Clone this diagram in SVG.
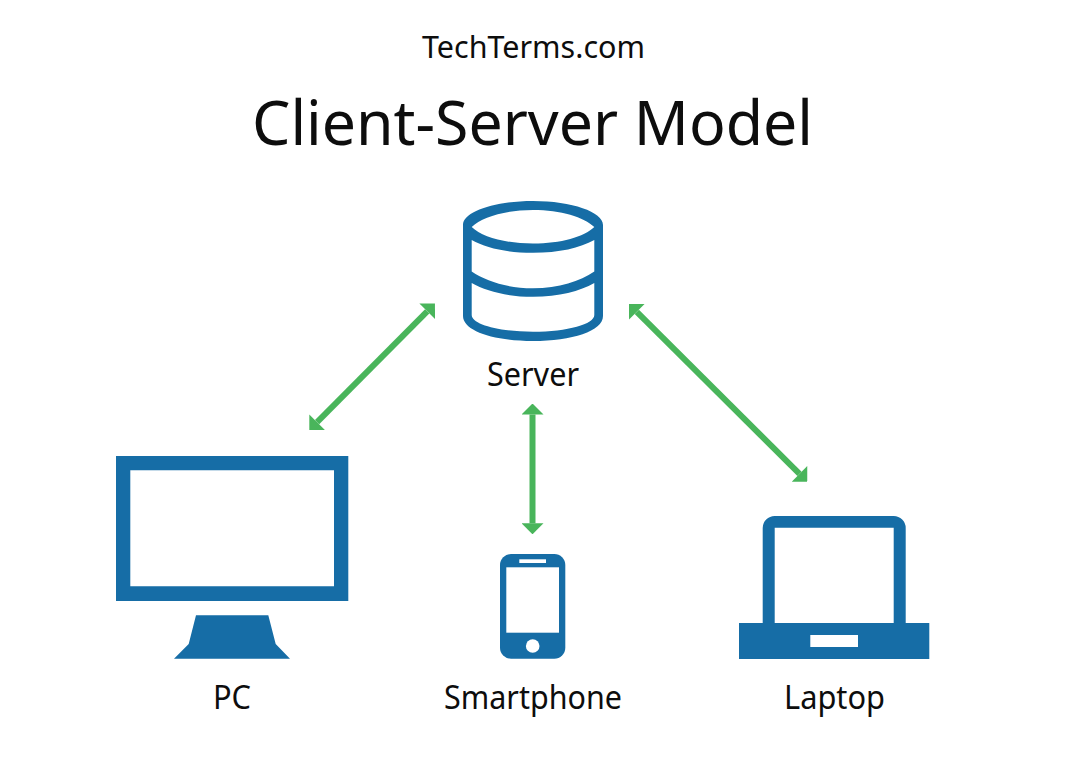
<svg xmlns="http://www.w3.org/2000/svg" width="1074" height="773" viewBox="0 0 1074 773">
<style>
.t{font-family:"Noto Sans","Open Sans","Liberation Sans",sans-serif;fill:#0d0d0d;text-anchor:middle}
.l{font-size:32px}
.i{fill:#166da6;fill-rule:evenodd}
.c{fill:none;stroke:#49b55b;stroke-width:6;marker-start:url(#h);marker-end:url(#h)}
</style>
<defs>
<marker id="h" markerUnits="userSpaceOnUse" markerWidth="12" markerHeight="22" viewBox="0 0 12 22" refX="1" refY="11" orient="auto-start-reverse"><path d="M1 0L12 11L1 22Z" fill="#49b55b"/></marker>
</defs>
<rect width="1074" height="773" fill="#fff"/>
<g id="header">
<text class="t" x="533.5" y="58" font-size="31" textLength="223" lengthAdjust="spacingAndGlyphs">TechTerms.com</text>
<text class="t" x="532.5" y="145" font-size="62" textLength="561" lengthAdjust="spacingAndGlyphs">Client-Server Model</text>
</g>
<g id="connectors">
<line class="c" x1="427.2" y1="311.3" x2="317.1" y2="422.2"/>
<line class="c" x1="636.8" y1="311.8" x2="799.5" y2="473.9"/>
<line class="c" x1="532.5" y1="414.5" x2="532.5" y2="523.3"/>
</g>
<g id="server">
<path class="i" d="M463 225C463 212 494 201 533 201S603 212 603 225V316C603 331 572 341 533 341S463 331 463 316Z
M471.7 227C482 217 505 210 533 210S584 217 594.3 227C584 237 561 243.5 533 243.5S482 237 471.7 227Z
M471.7 240C486 248 507 252.8 533 252.8S580 248 594.3 240V271.5C580 281 559 288.3 533 288.3S486 281 471.7 271.5Z
M471.7 283C486 291 507 296.8 533 296.8S580 291 594.3 283V315C594.3 324 568 331.8 533 331.8S471.7 324 471.7 315Z"/>
<text class="t l" x="533" y="386" textLength="92" lengthAdjust="spacingAndGlyphs">Server</text>
</g>
<g id="pc">
<path class="i" d="M116 456H348.3V601H116ZM130.3 470.3V586.3H334V470.3Z"/>
<path class="i" d="M196 615.3H268.3L275.7 644L290 658.7H174L188.7 644Z"/>
<text class="t l" x="232" y="709" textLength="38" lengthAdjust="spacingAndGlyphs">PC</text>
</g>
<g id="smartphone">
<rect class="i" x="500" y="554" width="65.3" height="104.7" rx="11"/>
<rect x="506.3" y="567.3" width="52.7" height="65.4" fill="#fff"/>
<rect x="519.3" y="559.3" width="26.7" height="3.7" fill="#fff"/>
<circle cx="532.7" cy="646" r="6.8" fill="#fff"/>
<text class="t l" x="533" y="709" textLength="178" lengthAdjust="spacingAndGlyphs">Smartphone</text>
</g>
<g id="laptop">
<path class="i" d="M762.7 623V528A12 12 0 0 1 774.7 516H893.7A12 12 0 0 1 905.7 528V623H929.3V659H739V623ZM774.7 527.7V623H893.7V527.7ZM810.3 635V647H858V635Z"/>
<text class="t l" x="834.5" y="709" textLength="101" lengthAdjust="spacingAndGlyphs">Laptop</text>
</g>
</svg>
